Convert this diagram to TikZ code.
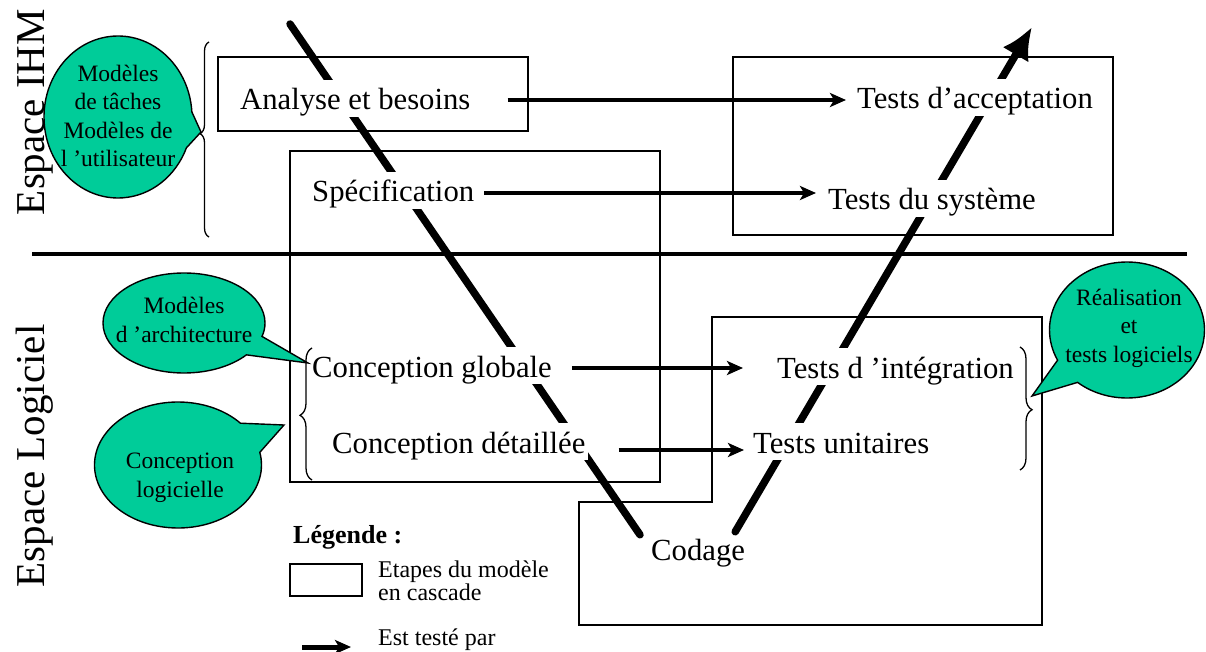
\documentclass[tikz,border=0pt]{standalone}
\usepackage{fontspec}
\setmainfont{Liberation Serif}
\usetikzlibrary{arrows.meta,shapes.callouts,decorations.pathreplacing,calc}
\pgfdeclarelayer{bg}
\pgfsetlayers{bg,main}
\definecolor{bubblegreen}{RGB}{0,204,153}

\tikzset{
  stage/.style={font=\fontsize{30.7}{36}\selectfont, fill=white, inner xsep=3pt,
    inner ysep=0pt, text height=30pt, text depth=7pt, anchor=base west},
  frame/.style={draw, line width=1.8pt},
  vline/.style={line width=7.5pt, line cap=round},
  testarrow/.style={line width=4.5pt, -{Stealth[length=16pt,width=14pt,inset=4pt]}},
  bubblenote/.style={ellipse callout, draw, line width=1.4pt, fill=bubblegreen,
    inner sep=0pt, callout pointer arc=22},
  notetext/.style={font=\fontsize{23.5}{28.5}\selectfont, align=center, inner sep=0pt},
  curly/.style={decorate, line width=1.3pt},
  spacelabel/.style={font=\fontsize{41}{48}\selectfont, rotate=90, anchor=base, inner sep=0pt},
  legtext/.style={font=\fontsize{24}{26}\selectfont, anchor=base west, inner sep=0pt},
}

\begin{document}
\begin{tikzpicture}[x=1pt,y=1pt]
\useasboundingbox (0,0) rectangle (1206,-652);

% waterfall stage frames
\draw[frame] (218,-57) rectangle (528,-131);
\draw[frame] (290,-151) rectangle (660,-482);
\draw[frame] (733,-57) rectangle (1113,-235);
\draw[frame, line width=2.2pt] (712,-317) -- (1042,-317) -- (1042,-625) -- (579,-625)
  -- (579,-502) -- (712,-502) -- cycle;

% separation between the two spaces
\draw[line width=3.5pt] (32,-254) -- (1187,-254);

% stages of the V
\node[stage] (ana)   at (237,-110) {Analyse et besoins};
\node[stage] (spec)  at (309,-202) {Spécification};
\node[stage] (acc)   at (854,-109) {Tests d’acceptation};
\node[stage] (sys)   at (825,-210) {Tests du système};
\node[stage] (cg)    at (309,-377) {Conception globale};
\node[stage] (cd)    at (329,-453) {Conception détaillée};
\node[stage] (integ) at (774,-378) {Tests d ’intégration};
\node[stage] (unit)  at (750,-453) {Tests unitaires};
\node[stage, fill=none, text height=27pt] (cod) at (648,-560) {Codage};

% the V itself
\coordinate (vtop) at (290,-24);
\coordinate (vtip) at (1032,-27);
\begin{pgfonlayer}{bg}
  \draw[vline] (vtop) -- ($(cod.north west)+(-8,-2)$);
  \draw[vline, -{Latex[length=32pt,width=30pt]}] ($(cod.north east)+(-13,1)$) -- (vtip);
\end{pgfonlayer}

% "is tested by" arrows
\draw[testarrow, shorten <=34pt, shorten >=8pt]
  ($(ana.east)+(0,-1.5)$) -- ($(ana.east -| acc.west)+(0,-1.5)$);
\draw[testarrow, shorten <=7pt, shorten >=9pt]
  ($(spec.east)+(0,-2.5)$) -- ($(spec.east -| sys.west)+(0,-2.5)$);
\draw[testarrow, shorten <=17pt, shorten >=31pt]
  ($(cg.east)+(0,-2.5)$) -- ($(cg.east -| integ.west)+(0,-2.5)$);
\draw[testarrow, shorten <=30pt, shorten >=6pt]
  ($(cd.east)+(0,-8.5)$) -- ($(cd.east -| unit.west)+(0,-8.5)$);

% braces
\draw[curly, decoration={brace, amplitude=9pt, aspect=0.53}] (209,-237) -- (209,-42);
\draw[curly, decoration={brace, amplitude=12pt, aspect=0.49}] (312,-480) -- (312,-348);
\draw[curly, decoration={brace, amplitude=12pt, aspect=0.51}] (1020,-347) -- (1020,-470);
\coordinate (p1) at (201,-132);
\coordinate (p2) at (308,-363);
\coordinate (p3) at (284,-425);
\coordinate (p4) at (1032,-396);

% callouts
\node[bubblenote, minimum width=148pt, minimum height=162pt,
  callout absolute pointer={(p1)}, callout pointer arc=26] (n1) at (118,-117) {};
\node[notetext] (t1) at (118,-116) {Modèles\\de tâches\\Modèles de\\l ’utilisateur};
\node[bubblenote, minimum width=162pt, minimum height=100pt,
  callout absolute pointer={(p2)}, callout pointer arc=24] (n2) at (184,-323) {};
\node[notetext, font=\fontsize{23.5}{29}\selectfont] (t2) at (184,-320) {Modèles\\d ’architecture};
\node[bubblenote, minimum width=167pt, minimum height=126pt,
  callout absolute pointer={(p3)}, callout pointer arc=30] (n3) at (178,-465) {};
\node[notetext] (t3) at (180,-478) {Conception\\logicielle};
\node[bubblenote, minimum width=155pt, minimum height=136pt,
  callout absolute pointer={(p4)}, callout pointer arc=24] (n4) at (1127,-330) {};
\node[notetext] (t4) at (1129,-328) {Réalisation\\et\\tests logiciels};

% space labels
\node[spacelabel] (ihm)  at (44,-112) {Espace IHM};
\node[spacelabel] (logi) at (44,-456) {Espace Logiciel};

% legend
\node[legtext, font=\fontsize{26}{28}\selectfont\bfseries] (leg) at (293,-543) {Légende :};
\draw[line width=1.5pt] (290,-564) rectangle (362,-596);
\node[legtext] (leg1) at (378,-577) {Etapes du modèle};
\node[legtext] (leg2) at (378,-600) {en cascade};
\node[legtext] (leg3) at (378,-645) {Est testé par};
\coordinate (la) at (302,-647);
\coordinate (lb) at (351,-647);
\draw[testarrow, line width=5pt] (la) -- (lb);
\end{tikzpicture}
\end{document}
